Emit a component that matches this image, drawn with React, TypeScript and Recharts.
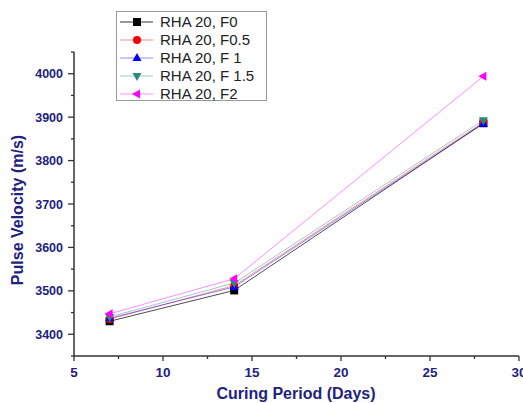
import React from "react";
import { LineChart, Line, XAxis, YAxis, Legend } from "recharts";

const days = [7, 14, 28];
const seriesNames = ["RHA 20, F0", "RHA 20, F0.5", "RHA 20, F 1", "RHA 20, F 1.5", "RHA 20, F2"];
const f0 = [3430, 3501, 3886];
const f05 = [3435, 3512, 3888];
const f1 = [3437, 3509, 3885];
const f15 = [3440, 3518, 3893];
const f2 = [3447, 3528, 3994];
const xTicks = [5, 7.5, 10, 12.5, 15, 17.5, 20, 22.5, 25, 27.5, 30];
const yTicks = [3350, 3400, 3450, 3500, 3550, 3600, 3650, 3700, 3750, 3800, 3850, 3900, 3950, 4000, 4050];

const keys = ["f0", "f05", "f1", "f15", "f2"];
const colors = ["#000000", "#ff0000", "#0000ff", "#2a8a78", "#ff00ff"];
const shapes = ["square", "circle", "up", "down", "left"];
const allValues = [f0, f05, f1, f15, f2];

const data = days.map((d, i) => {
  const row: any = { day: d };
  keys.forEach((k, j) => (row[k] = allValues[j][i]));
  return row;
});

const NAVY = "#22227e";
const FONT = "'Liberation Sans', Arial, sans-serif";

function Marker({ cx, cy, shape, color }: any) {
  const s = 4;
  if (shape === "square") return <rect x={cx - s} y={cy - s} width={2 * s} height={2 * s} fill={color} />;
  if (shape === "circle") return <circle cx={cx} cy={cy} r={s} fill={color} />;
  if (shape === "up") return <polygon points={`${cx},${cy - s - 1} ${cx - s - 0.5},${cy + s - 1} ${cx + s + 0.5},${cy + s - 1}`} fill={color} />;
  if (shape === "down") return <polygon points={`${cx},${cy + s + 1} ${cx - s - 0.5},${cy - s + 1} ${cx + s + 0.5},${cy - s + 1}`} fill={color} />;
  return <polygon points={`${cx - s - 1},${cy} ${cx + s - 1},${cy - s - 0.5} ${cx + s - 1},${cy + s + 0.5}`} fill={color} />;
}

function XTick(props: any) {
  const { x, y, payload } = props;
  const v = payload.value;
  const major = v % 5 === 0;
  return (
    <g>
      <line x1={x} x2={x} y1={y} y2={y + (major ? 5 : 3)} stroke="#333" strokeWidth={1.3} />
      {major && (
        <text x={x} y={y + 21} textAnchor="middle" fontFamily={FONT} fontWeight="bold" fontSize={13.5} fill={NAVY}>
          {v}
        </text>
      )}
    </g>
  );
}

function YTick(props: any) {
  const { x, y, payload } = props;
  const v = payload.value;
  const major = v % 100 === 0;
  return (
    <g>
      <line x1={x - (major ? 6 : 3)} x2={x} y1={y} y2={y} stroke="#333" strokeWidth={1.3} />
      {major && (
        <text x={x - 11} y={y + 4.5} textAnchor="end" fontFamily={FONT} fontWeight="bold" fontSize={12.5} fill={NAVY}>
          {v}
        </text>
      )}
    </g>
  );
}

function LegendBox() {
  return (
    <svg width={152} height={92} style={{ display: "block" }}>
      <rect x={0.5} y={0.5} width={150} height={89} fill="#fff" stroke="#999" strokeWidth={1} />
      {seriesNames.map((n, i) => {
        const cy = 11 + i * 18;
        return (
          <g key={n}>
            <line x1={4} x2={37} y1={cy} y2={cy} stroke={colors[i]} strokeOpacity={i === 0 ? 0.8 : 0.45} strokeWidth={1} />
            <Marker cx={21} cy={cy} shape={shapes[i]} color={colors[i]} />
            <text x={44} y={cy + 5} fontFamily={FONT} fontSize={15} fill="#222">
              {n}
            </text>
          </g>
        );
      })}
    </svg>
  );
}

export default function App() {
  return (
    <div style={{ position: "absolute", left: 0, top: 0, width: 523, height: 403, background: "#fff" }}>
      <LineChart width={523} height={403} data={data} margin={{ top: 52, right: 4, bottom: 17, left: 14 }}>
        <XAxis
          dataKey="day"
          type="number"
          domain={[5, 30]}
          ticks={xTicks}
          interval={0}
          allowDataOverflow
          tickSize={0}
          tickMargin={0}
          tickLine={false}
          height={30}
          axisLine={{ stroke: "#333", strokeWidth: 1.5 }}
          tick={<XTick />}
        />
        <YAxis
          type="number"
          domain={[3350, 4050]}
          ticks={yTicks}
          interval={0}
          allowDataOverflow
          tickSize={0}
          tickMargin={0}
          tickLine={false}
          width={60}
          axisLine={{ stroke: "#333", strokeWidth: 1.5 }}
          tick={<YTick />}
        />
        <Legend
          layout="vertical"
          align="center"
          verticalAlign="middle"
          wrapperStyle={{ left: 116, top: 11, width: 152, height: 92 }}
          content={() => <LegendBox />}
        />
        {keys.map((k, i) => (
          <Line
            key={k}
            dataKey={k}
            name={seriesNames[i]}
            stroke={colors[i]}
            strokeOpacity={i === 0 ? 0.7 : 0.45}
            strokeWidth={1}
            isAnimationActive={false}
            dot={(p: any) => <Marker key={`${k}-${p.index}`} cx={p.cx} cy={p.cy} shape={shapes[i]} color={colors[i]} />}
            activeDot={false}
          />
        ))}
      </LineChart>
      <div
        style={{
          position: "absolute",
          left: 18,
          top: 210,
          transform: "translate(-50%, -50%) rotate(-90deg)",
          whiteSpace: "nowrap",
          fontFamily: FONT,
          fontWeight: "bold",
          fontSize: 16,
          color: NAVY,
        }}
      >
        Pulse Velocity (m/s)
      </div>
      <div
        style={{
          position: "absolute",
          left: 296,
          top: 394,
          transform: "translate(-50%, -50%)",
          whiteSpace: "nowrap",
          fontFamily: FONT,
          fontWeight: "bold",
          fontSize: 16,
          color: NAVY,
        }}
      >
        Curing Period (Days)
      </div>
    </div>
  );
}
